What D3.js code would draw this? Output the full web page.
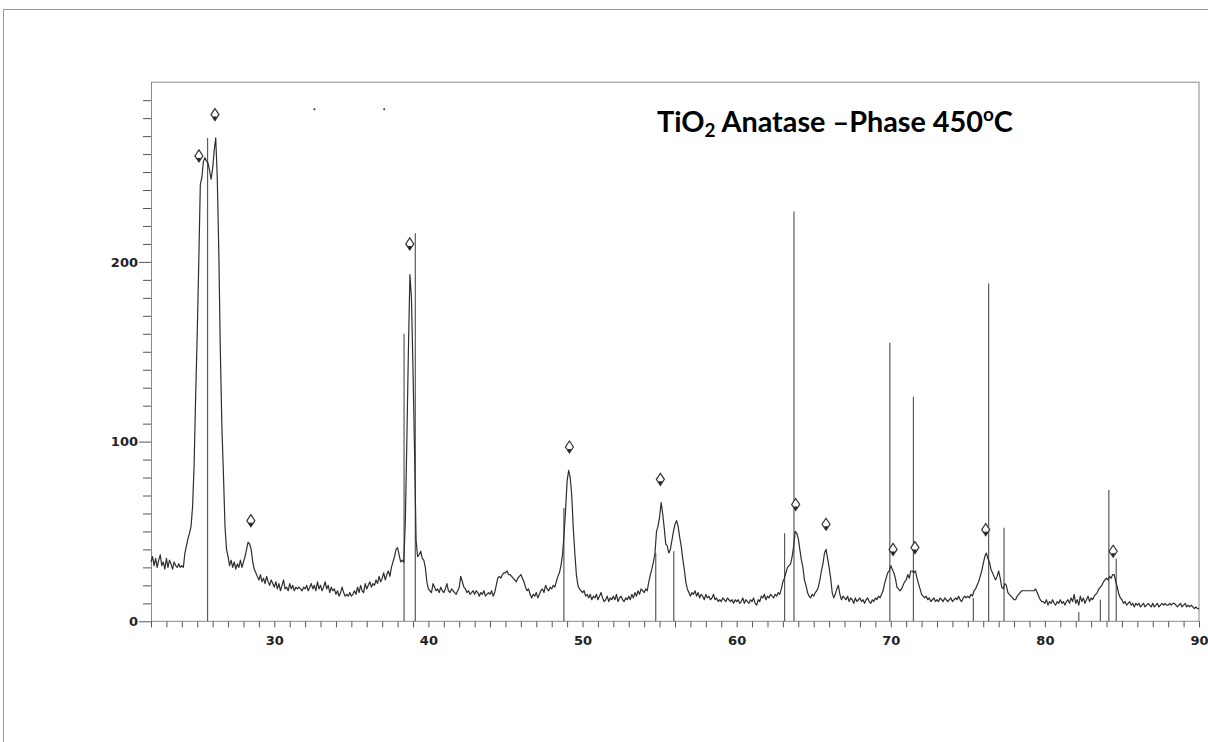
<!DOCTYPE html>
<html>
<head>
<meta charset="utf-8">
<script src="https://cdn.jsdelivr.net/npm/d3@7"></script>
<style>
  body { margin: 0; background: #fff; }
  svg { display: block; }
  .frame { fill: none; stroke: #8a8a8a; stroke-width: 1; }
  .axis text { font-family: "DejaVu Sans", sans-serif; font-weight: bold; font-size: 13px; fill: #222; }
  .axis line { stroke: #555; }
  .trace { fill: none; stroke: #2e2e2e; stroke-width: 1.2; stroke-linejoin: round; }
  .stick { stroke: #5a5a5a; stroke-width: 1.2; }
</style>
</head>
<body>
<svg id="myGraph"></svg>
<script>
// 2theta sampling of the scan
var twoThetaStart = 22, twoThetaStep = 0.1;

// measured counts, one line per degree (22.0 ... 90.0)
var counts = [
  33,36,31,35,30,34,37,31,33,29,
  35,30,34,32,29,33,31,30,32,30,
  31,30,38,42,46,49,53,64,88,126,
  160,200,243,247,256,258,256,255,251,246,
  252,262,269,247,205,150,108,82,53,40,
  36,31,34,30,33,29,32,30,34,30,
  33,36,40,44,43,40,33,29,27,25,
  23,26,22,24,21,25,22,20,23,21,
  19,22,18,21,17,20,23,18,19,17,
  21,18,20,17,19,18,19,18,17,19,
  18,20,17,19,21,18,20,17,22,18,
  20,17,19,22,18,20,16,19,17,18,
  15,17,14,16,19,16,14,15,14,16,
  14,15,17,15,19,16,20,17,16,21,
  18,20,22,19,21,20,23,21,25,22,
  24,27,23,26,28,25,30,33,36,40,
  41,37,33,34,33,55,100,150,193,180,
  140,95,45,36,37,39,35,34,30,22,
  18,17,16,21,19,17,18,16,19,17,
  16,18,21,17,16,18,17,16,15,17,
  19,25,22,19,18,16,17,15,16,17,
  15,17,16,14,16,15,17,14,15,16,
  15,17,14,16,20,24,25,24,26,27,
  27,28,26,26,25,24,23,22,24,25,
  26,24,22,19,17,18,15,13,15,14,
  16,13,15,17,18,16,20,18,17,19,
  18,20,19,22,25,27,31,37,48,62,
  78,84,80,70,52,38,26,20,18,17,
  16,17,14,15,13,15,12,14,13,15,
  12,14,16,13,11,12,14,11,13,12,
  14,12,15,11,13,14,12,11,13,12,
  14,12,15,13,16,14,17,15,18,17,
  16,18,17,22,26,29,33,38,50,53,
  58,66,60,52,43,42,38,40,45,50,
  54,56,53,47,42,35,29,22,18,16,
  14,16,15,17,14,16,13,15,14,12,
  15,13,14,12,13,15,12,13,11,12,
  11,13,12,11,13,12,11,12,10,12,
  11,12,10,11,13,10,12,11,10,12,
  11,13,10,9,12,11,14,13,15,12,
  14,13,15,14,13,15,14,16,15,18,
  22,24,27,30,31,32,36,42,50,49,
  46,40,34,30,23,20,16,14,13,15,
  14,16,17,19,23,28,32,38,40,35,
  30,24,16,13,15,18,20,15,12,14,
  13,12,14,11,13,12,10,13,11,12,
  13,11,12,10,12,13,11,10,12,11,
  13,12,14,13,15,17,21,24,27,28,
  31,29,27,24,19,18,17,18,20,22,
  23,26,24,28,28,27,28,24,21,18,
  15,14,13,14,12,13,11,12,13,11,
  12,11,13,12,11,13,12,11,12,13,
  11,12,13,12,14,12,11,13,14,13,
  14,13,15,14,17,18,20,22,25,28,
  32,36,38,35,33,29,27,25,23,25,
  28,24,19,18,21,20,16,15,14,13,
  12,12,14,15,16,17,17,17,17,17,
  17,17,17,17,18,16,14,12,11,11,
  10,12,9,11,10,12,10,9,11,10,
  12,10,11,9,11,12,10,13,11,15,
  10,12,9,14,11,13,10,12,14,11,
  13,12,14,15,16,18,19,20,22,23,
  24,23,25,24,26,26,22,19,15,13,
  12,10,11,9,10,11,9,10,8,10,
  9,10,8,9,10,8,9,10,9,8,
  10,8,9,10,8,9,10,9,10,9,
  9,10,9,10,10,9,8,9,10,8,
  9,10,8,9,8,9,8,7,8,7,
  7
];

// reference pattern lines
var refPos    = [25.67, 38.42, 39.15, 48.79, 54.75, 55.92, 63.11, 63.72, 69.94, 71.47, 75.36, 76.35, 77.35, 82.2, 83.6, 84.15, 84.63];
var refHeight = [269,   160,   216,   63,    38,    39,    49,    228,   155,   125,   13,    188,   52,    5,    12,   73,    35];

// anatase peak markers
var markPos    = [25.11, 26.15, 28.48, 38.79, 49.15, 55.05, 63.83, 65.8, 70.15, 71.57, 76.16, 84.43];
var markHeight = [259,   282,   56,    210,   97,    79,    65,    54,   40,    41,    51,    39];

// stray dots near the top
var dotPos = [32.6, 37.13];
var dotHeight = [285, 285];

var yTickValues = [0, 100, 200];

var width = 1208, height = 742;
var plot = {left: 151, right: 1199, top: 82.2, bottom: 621.3};

var svg = d3.select("#myGraph")
    .attr("width", width)
    .attr("height", height);

svg.append("rect").attr("width", width).attr("height", height).attr("fill", "#fff");

// outer border
svg.append("rect")
    .attr("class", "frame")
    .attr("x", 3.5).attr("y", 9.5)
    .attr("width", 1220).attr("height", 760)
    .style("stroke", "#9a9a9a");

var x = d3.scaleLinear().domain([22, 90]).range([plot.left, plot.right]);
var y = d3.scaleLinear().domain([0, 300]).range([plot.bottom, plot.top]);

// inner frame
svg.append("rect")
    .attr("class", "frame")
    .attr("x", plot.left + 0.5).attr("y", plot.top)
    .attr("width", plot.right - plot.left - 0.5)
    .attr("height", plot.bottom - plot.top);

// x axis
var xAxis = d3.axisBottom(x)
    .tickValues(d3.range(22, 91, 1))
    .tickSize(6)
    .tickPadding(8)
    .tickFormat(function(d) { return d % 10 === 0 ? d : ""; });

var gx = svg.append("g")
    .attr("class", "axis")
    .attr("transform", "translate(0," + plot.bottom + ")")
    .call(xAxis);
gx.select(".domain").remove();

// y axis
var yAxis = d3.axisLeft(y)
    .tickValues(d3.range(0, 300, 10))
    .tickSize(8)
    .tickFormat(function(d) { return yTickValues.indexOf(d) >= 0 ? d : ""; });

var gy = svg.append("g")
    .attr("class", "axis")
    .attr("transform", "translate(" + plot.left + ",0)")
    .call(yAxis);
gy.select(".domain").remove();
gy.selectAll(".tick")
    .filter(function(d) { return yTickValues.indexOf(d) >= 0; })
    .select("line").attr("x2", -12);
gy.selectAll(".tick text").attr("x", -13);

// reference sticks
svg.selectAll("line.stick")
    .data(refPos)
    .enter()
    .append("line")
    .attr("class", "stick")
    .attr("x1", function(d) { return x(d); })
    .attr("x2", function(d) { return x(d); })
    .attr("y1", y(0))
    .attr("y2", function(d, i) { return y(refHeight[i]); });

// measured trace
var line = d3.line()
    .x(function(d, i) { return x(twoThetaStart + i * twoThetaStep); })
    .y(function(d) { return y(d); });

svg.append("path")
    .datum(counts)
    .attr("class", "trace")
    .attr("d", line);

// diamond markers
var mk = svg.selectAll("g.mark")
    .data(markPos)
    .enter()
    .append("g")
    .attr("class", "mark")
    .attr("transform", function(d, i) {
        return "translate(" + x(d) + "," + y(markHeight[i]) + ")";
    });
mk.append("path")
    .attr("d", "M0,-6 L4,0 L0,6 L-4,0 Z")
    .attr("fill", "#fff")
    .attr("stroke", "#333")
    .attr("stroke-width", 1.2);
mk.append("path")
    .attr("d", "M-2,2 L2,2 L0,6 Z")
    .attr("fill", "#222");

svg.selectAll("circle.dot")
    .data(dotPos)
    .enter()
    .append("circle")
    .attr("class", "dot")
    .attr("cx", function(d) { return x(d); })
    .attr("cy", function(d, i) { return y(dotHeight[i]); })
    .attr("r", 1)
    .attr("fill", "#333");

// title
var title = svg.append("text")
    .attr("x", 657)
    .attr("y", 132)
    .style("font-family", "Lato, 'Open Sans', sans-serif")
    .style("font-weight", "bold")
    .style("font-size", "29px")
    .style("fill", "#000");
title.append("tspan").text("TiO");
title.append("tspan").attr("dy", 5).style("font-size", "19px").text("2");
title.append("tspan").attr("dy", -5).text(" Anatase \u2013Phase 450");
title.append("tspan").attr("dy", -11).style("font-size", "19px").text("o");
title.append("tspan").attr("dy", 11).text("C");

var tw = title.node().getComputedTextLength();
var target = 356;
title.attr("transform", "translate(657,0) scale(" + (target / tw) + ",1) translate(-657,0)");
</script>
</body>
</html>
